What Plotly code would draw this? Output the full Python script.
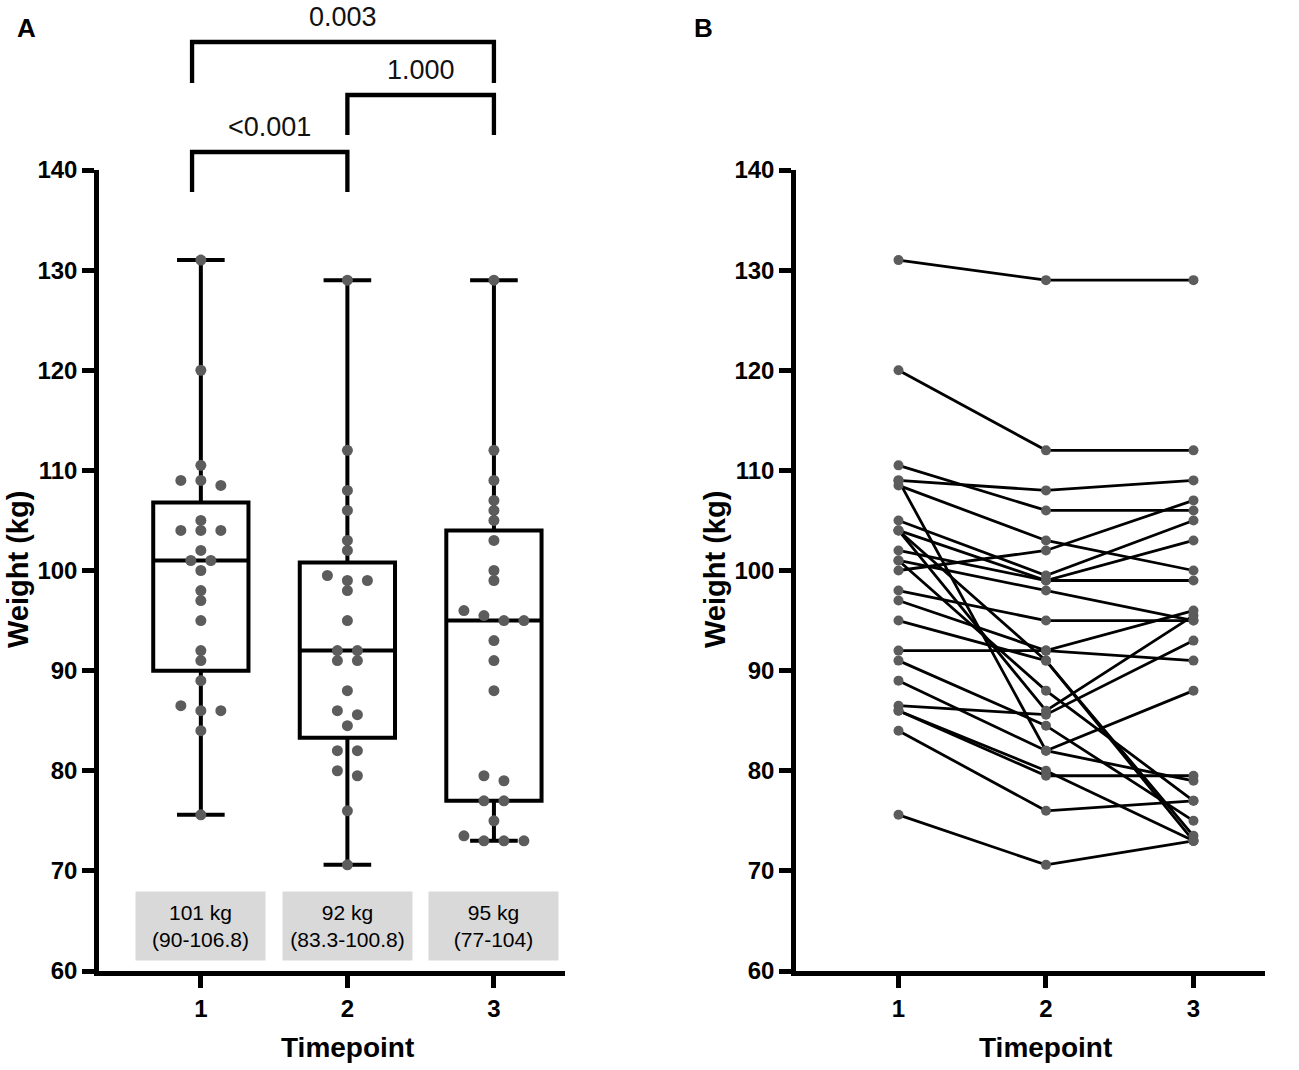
import plotly.graph_objects as go

# body weight (kg) of each participant at the three timepoints (same order in each list)
timepoints = [1, 2, 3]
weight_t1 = [131, 120, 110.5, 109, 108.5, 109, 98, 92, 91, 89, 86.5, 86, 86, 84, 75.6,
             105, 104, 104, 104, 102, 101, 101, 100, 97, 95]
weight_t2 = [129, 112, 106, 108, 103, 82, 95, 92, 84.5, 82, 85.6, 80, 79.5, 76, 70.6,
             99.5, 99, 91, 86, 99, 98, 88, 102, 92, 91]
weight_t3 = [129, 112, 106, 109, 100, 88, 95, 91, 75, 79, 93, 73, 79.5, 77, 73,
             105, 103, 73.5, 95.5, 99, 95, 77, 107, 96, 73]

# median (IQR) shown under each box
medians = [101, 92, 95]
q1 = [90, 83.3, 77]
q3 = [106.8, 100.8, 104]

# pairwise comparisons (group a, group b, p-value)
comparisons = [(1, 2, "<0.001"), (2, 3, "1.000"), (1, 3, "0.003")]

W, H = 1299, 1070
FONT = "Liberation Sans, Arial, sans-serif"
DOT = "#5c5c5c"

X_RANGE = [0.305, 3.485]
Y_RANGE = [60, 140]
dom_a = [99 / W, 565 / W]
dom_b = [796 / W, 1265 / W]
dom_y = [1 - 971 / H, 1 - 170 / H]


def to_paper(v, dom):
    return dom[0] + (v - X_RANGE[0]) / (X_RANGE[1] - X_RANGE[0]) * (dom[1] - dom[0])


def swarm_offsets(vals, step):
    # simple beeswarm: values within 0.5 kg share a row, rows are centred
    order = sorted(range(len(vals)), key=lambda i: -vals[i])
    rows, cur = [], [order[0]]
    for i in order[1:]:
        if vals[cur[-1]] - vals[i] <= 0.5:
            cur.append(i)
        else:
            rows.append(cur)
            cur = [i]
    rows.append(cur)
    offs = [0.0] * len(vals)
    for row in rows:
        n = len(row)
        for k, i in enumerate(row):
            offs[i] = (k - (n - 1) / 2) * step
    return offs


groups = [weight_t1, weight_t2, weight_t3]
px_per_unit = (dom_a[1] - dom_a[0]) * W / (X_RANGE[1] - X_RANGE[0])
step = 20 / px_per_unit

fig = go.Figure()

# ---- panel A: box + dots
fig.add_trace(go.Box(
    x=timepoints, q1=q1, median=medians, q3=q3,
    lowerfence=[min(g) for g in groups], upperfence=[max(g) for g in groups],
    width=0.65, whiskerwidth=0.5, fillcolor="rgba(0,0,0,0)",
    line=dict(color="black", width=4), boxpoints=False,
    xaxis="x", yaxis="y", showlegend=False, hoverinfo="skip"))

xs, ys = [], []
for t, g in zip(timepoints, groups):
    for v, o in zip(g, swarm_offsets(g, step)):
        xs.append(t + o)
        ys.append(v)
fig.add_trace(go.Scatter(x=xs, y=ys, mode="markers", xaxis="x", yaxis="y",
                         marker=dict(size=11, color=DOT), showlegend=False))

# ---- panel B: paired lines
lx, ly = [], []
for a, b, c in zip(weight_t1, weight_t2, weight_t3):
    lx += timepoints + [None]
    ly += [a, b, c, None]
fig.add_trace(go.Scatter(x=lx, y=ly, mode="lines", xaxis="x2", yaxis="y2",
                         line=dict(color="black", width=2.8), showlegend=False))
fig.add_trace(go.Scatter(x=timepoints * len(weight_t1),
                         y=[v for trip in zip(weight_t1, weight_t2, weight_t3) for v in trip],
                         mode="markers", xaxis="x2", yaxis="y2",
                         marker=dict(size=10, color=DOT), showlegend=False))

axis_common = dict(showline=True, linecolor="black", linewidth=4.5, ticks="outside",
                   ticklen=12, tickwidth=4.5, tickcolor="black", showgrid=False, zeroline=False,
                   automargin=False,
                   tickfont=dict(family=FONT, size=24, color="black", weight="bold"))
fig.update_layout(
    width=W, height=H, margin=dict(l=0, r=0, t=0, b=0, pad=0),
    paper_bgcolor="white", plot_bgcolor="white",
    xaxis=dict(domain=dom_a, range=X_RANGE, tickvals=timepoints, anchor="y", **axis_common),
    yaxis=dict(domain=dom_y, range=Y_RANGE, dtick=10, anchor="x", **axis_common),
    xaxis2=dict(domain=dom_b, range=X_RANGE, tickvals=timepoints, anchor="y2", **axis_common),
    yaxis2=dict(domain=dom_y, range=Y_RANGE, dtick=10, anchor="x2", **axis_common),
)

ann = []
# median (IQR) labels
for t, m, a, b in zip(timepoints, medians, q1, q3):
    ann.append(dict(x=t, y=64.5, xref="x", yref="y", text=f"{m:g} kg<br>({a:g}-{b:g})",
                    showarrow=False, bgcolor="#d9d9d9", width=127, height=66,
                    xanchor="center", yanchor="middle",
                    font=dict(family=FONT, size=21, color="black")))

# significance brackets
levels = {(1, 2): (152, 192), (2, 3): (95, 135), (1, 3): (42, 83)}
shapes = []
for a, b, p in comparisons:
    top, bot = levels[(a, b)]
    xa = to_paper(a - 0.06 if a == 1 else a, dom_a)
    xb = to_paper(b, dom_a)
    yt, yb = 1 - top / H, 1 - bot / H
    shapes.append(dict(type="path", xref="paper", yref="paper",
                       path=f"M {xa},{yb} L {xa},{yt} L {xb},{yt} L {xb},{yb}",
                       line=dict(color="black", width=4.3)))
    ann.append(dict(x=(xa + xb) / 2, y=yt + 25 / H, xref="paper", yref="paper", text=p,
                    showarrow=False, xanchor="center", yanchor="middle",
                    font=dict(family=FONT, size=27, color="#111")))

# axis titles and panel letters
title_font = dict(family=FONT, size=28, color="black", weight="bold")
for dom in (dom_a, dom_b):
    ann.append(dict(x=(to_paper(1, dom) + to_paper(3, dom)) / 2, y=1 - 1047 / H,
                    xref="paper", yref="paper", text="Timepoint", showarrow=False,
                    xanchor="center", yanchor="middle", font=title_font))
for xpx in (18, 715):
    ann.append(dict(x=xpx / W, y=1 - 570 / H, xref="paper", yref="paper", text="Weight (kg)",
                    textangle=-90, showarrow=False, xanchor="center", yanchor="middle",
                    font=dict(family=FONT, size=29, color="black", weight="bold")))
for xpx, letter in ((27, "A"), (704, "B")):
    ann.append(dict(x=xpx / W, y=1 - 28 / H, xref="paper", yref="paper", text=letter,
                    showarrow=False, xanchor="center", yanchor="middle",
                    font=dict(family=FONT, size=26, color="black", weight="bold")))

fig.update_layout(annotations=ann, shapes=shapes)
# no page margin, so the figure sits at the top-left corner of the window
fig.write_html("out.html", config={"displayModeBar": False},
               post_script="document.body.style.margin='0';")
